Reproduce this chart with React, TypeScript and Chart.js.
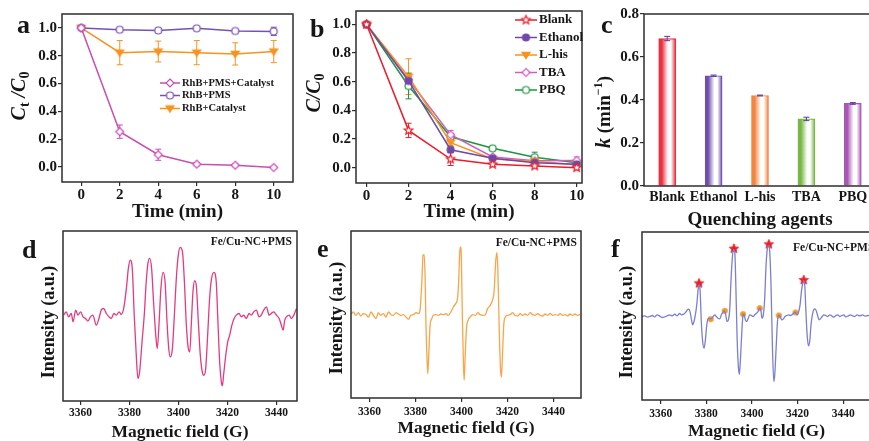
import React, { useEffect, useRef } from 'react';
import { Chart, registerables } from 'chart.js';

Chart.register(...registerables);

const FONT = '"Liberation Serif", "Times New Roman", Times, serif';
const INK = '#161616';
const AXIS = '#2e2e2e';

/* ---------------- panel a ---------------- */
const timeA = [0, 2, 4, 6, 8, 10];
const seriesA = ['RhB+PMS+Catalyst', 'RhB+PMS', 'RhB+Catalyst'];
const rhbPmsCatalyst = [1.0, 0.254, 0.088, 0.02, 0.012, -0.004];
const rhbPmsCatalystErr = [0.006, 0.048, 0.04, 0.012, 0.01, 0.008];
const rhbPms = [1.0, 0.987, 0.982, 0.997, 0.978, 0.975];
const rhbPmsErr = [0.006, 0.008, 0.008, 0.008, 0.01, 0.03];
const rhbCatalyst = [1.0, 0.822, 0.83, 0.822, 0.813, 0.83];
const rhbCatalystErr = [0.006, 0.087, 0.075, 0.087, 0.08, 0.08];
const ratioTicks = [0, 0.2, 0.4, 0.6, 0.8, 1.0];
const timeTicks = [0, 2, 4, 6, 8, 10];

/* ---------------- panel b ---------------- */
const timeB = [0, 2, 4, 6, 8, 10];
const scavengers = ['Blank', 'Ethanol', 'L-his', 'TBA', 'PBQ'];
const blankB = [1.0, 0.26, 0.06, 0.023, 0.012, 0.0];
const blankBErr = [0.01, 0.05, 0.045, 0.015, 0.015, 0.015];
const ethanolB = [1.0, 0.605, 0.125, 0.065, 0.035, 0.023];
const ethanolBErr = [0.01, 0.03, 0.02, 0.01, 0.01, 0.01];
const lhisB = [1.0, 0.635, 0.175, 0.06, 0.045, 0.02];
const lhisBErr = [0.01, 0.125, 0.02, 0.01, 0.01, 0.01];
const tbaB = [1.0, 0.615, 0.23, 0.075, 0.048, 0.05];
const tbaBErr = [0.01, 0.04, 0.03, 0.01, 0.01, 0.025];
const pbqB = [1.0, 0.57, 0.215, 0.135, 0.073, 0.035];
const pbqBErr = [0.01, 0.09, 0.02, 0.01, 0.035, 0.01];

/* ---------------- panel c ---------------- */
const agents = ['Blank', 'Ethanol', 'L-his', 'TBA', 'PBQ'];
const rateK = [0.686, 0.513, 0.421, 0.312, 0.384];
const rateKErr = [0.01, 0.003, 0.002, 0.008, 0.004];
const kTicks = [0, 0.2, 0.4, 0.6, 0.8];

/* ---------------- EPR spectra (d, e, f) ---------------- */
const fieldTicks = [3360, 3380, 3400, 3420, 3440];
const eprLabel = 'Fe/Cu-NC+PMS';

const fieldD = [
  3353.1, 3354.1, 3355.1, 3356.2, 3356.9, 3358.0, 3358.9, 3360.0, 3361.0, 3362.0,
  3363.0, 3364.0, 3365.0, 3366.4, 3367.5, 3368.4, 3369.4, 3370.5, 3371.6, 3372.5,
  3373.6, 3374.6, 3375.7, 3376.6, 3377.6, 3378.7, 3379.5, 3380.3, 3381.1, 3381.9,
  3382.8, 3383.4, 3384.1, 3385.2, 3386.0, 3386.8, 3387.5, 3388.2, 3389.0, 3389.8,
  3390.7, 3391.3, 3392.0, 3392.8, 3393.7, 3394.5, 3395.3, 3396.0, 3396.6, 3397.5,
  3398.3, 3399.1, 3399.9, 3400.7, 3401.6, 3402.4, 3403.2, 3403.9, 3404.6, 3405.2,
  3405.9, 3406.6, 3407.3, 3408.1, 3408.9, 3409.7, 3410.3, 3411.1, 3411.9, 3412.7,
  3413.5, 3414.5, 3415.4, 3416.1, 3416.8, 3417.5, 3417.9, 3418.4, 3419.3, 3420.1,
  3420.9, 3421.8, 3422.7, 3423.6, 3424.7, 3425.7, 3426.6, 3427.7, 3428.8, 3429.8,
  3430.7, 3431.8, 3432.9, 3433.8, 3434.8, 3435.9, 3437.0, 3437.9, 3438.9, 3440.0,
  3441.1, 3442.0, 3442.7, 3443.4, 3444.1, 3445.2, 3446.1, 3447.1, 3448.2,
];
const intensityD = [
  0, 10, -5, 5, -20, 15, 0, 10, -5, -10,
  -18, -5, 0, -30, -10, 15, 20, 5, -5, -10,
  5, 0, 10, 2, 20, 80, 140, 165, 140, 0,
  -130, -190, -170, -70, 0, 100, 155, 170, 140, 40,
  -60, -100, -30, 80, 128, 100, -20, -100, -125, -100,
  0, 110, 180, 203, 190, 100, -30, -95, -110, -30,
  70, 103, 85, -20, -120, -170, -180, -160, -60, 50,
  110, 128, 100, -20, -140, -200, -212, -180, -120, -80,
  -60, -30, -10, 0, 5, -5, 0, -10, 5, 0,
  10, 15, -5, 0, 15, 25, 0, 5, 10, 0,
  -10, -30, -45, -15, -5, 0, -10, 0, 20,
];

const fieldE = [
  3352.0, 3353.0, 3354.1, 3355.2, 3356.2, 3357.4, 3358.6, 3359.6, 3360.7, 3361.7,
  3362.9, 3363.9, 3364.9, 3366.1, 3367.2, 3368.3, 3369.4, 3370.4, 3371.6, 3372.6,
  3373.8, 3374.8, 3375.9, 3377.0, 3378.0, 3379.1, 3380.3, 3381.3, 3382.0, 3382.8,
  3383.3, 3383.8, 3384.2, 3384.6, 3385.1, 3385.4, 3385.8, 3386.4, 3387.1, 3387.8,
  3389.0, 3390.0, 3391.0, 3392.2, 3393.3, 3394.3, 3395.4, 3396.5, 3397.5, 3398.3,
  3398.8, 3399.3, 3399.6, 3400.0, 3400.4, 3400.9, 3401.2, 3401.6, 3402.2, 3402.9,
  3403.8, 3404.9, 3406.1, 3407.1, 3408.1, 3409.3, 3410.4, 3411.4, 3412.5, 3413.5,
  3414.2, 3414.9, 3415.4, 3415.8, 3416.4, 3417.0, 3417.4, 3417.8, 3418.4, 3419.1,
  3420.0, 3421.2, 3422.3, 3423.3, 3424.5, 3425.5, 3426.7, 3427.7, 3428.8, 3429.9,
  3431.0, 3432.0, 3433.2, 3434.2, 3435.4, 3436.4, 3437.5, 3438.6, 3439.7, 3440.7,
  3441.9, 3442.9, 3444.1, 3445.1, 3446.2, 3447.2, 3448.4, 3449.4, 3450.4, 3451.6,
];
const intensityE = [
  0, 7, -3, 5, -5, 2, -1, -8, 7, -3,
  -13, 5, -3, 2, -8, 7, -1, -3, 5, 1,
  -3, -1, -8, -15, -3, -1, 5, 2, 12, 97,
  177, 179, 117, -33, -143, -178, -123, -33, -13, -3,
  -1, -3, 1, -1, 2, -3, 7, 22, 32, 47,
  97, 187, 202, 167, -3, -153, -198, -133, -43, -18,
  -8, -1, -3, 5, -1, -3, -1, 17, 27, 42,
  67, 157, 185, 147, -33, -163, -188, -133, -33, -8,
  -3, -1, 5, -3, -5, 2, -3, 1, -3, 5,
  -1, -3, 2, -3, -5, 1, -3, 3, -3, -1,
  -3, 2, -3, -1, -5, 1, -3, 1, -3, -1,
];

const fieldF = [
  3351.8, 3353.0, 3354.2, 3355.2, 3356.3, 3357.4, 3358.4, 3359.6, 3360.7, 3361.8,
  3362.8, 3363.9, 3365.1, 3366.1, 3367.2, 3368.3, 3369.1, 3370.1, 3371.0, 3371.7,
  3372.3, 3372.9, 3373.5, 3374.0, 3374.6, 3375.2, 3375.8, 3376.4, 3376.8, 3377.3,
  3377.8, 3378.4, 3379.0, 3379.6, 3380.2, 3380.8, 3381.5, 3382.2, 3383.0, 3383.7,
  3384.4, 3385.1, 3385.9, 3386.6, 3387.3, 3387.9, 3388.5, 3389.1, 3389.7, 3390.3,
  3390.8, 3391.4, 3392.0, 3392.5, 3392.9, 3393.5, 3394.1, 3394.5, 3394.9, 3395.5,
  3396.1, 3396.5, 3397.1, 3397.7, 3398.3, 3399.0, 3399.8, 3400.5, 3401.2, 3402.0,
  3402.7, 3403.3, 3403.9, 3404.4, 3405.0, 3405.6, 3406.2, 3406.8, 3407.4, 3407.8,
  3408.4, 3409.0, 3409.6, 3410.0, 3410.6, 3411.2, 3411.8, 3412.3, 3413.1, 3413.8,
  3414.5, 3415.3, 3416.0, 3416.7, 3417.5, 3418.2, 3418.8, 3419.4, 3419.9, 3420.5,
  3421.1, 3421.7, 3422.3, 3422.7, 3423.2, 3423.6, 3424.2, 3424.8, 3425.4, 3425.9,
  3426.5, 3427.1, 3427.7, 3428.3, 3428.9, 3429.4, 3430.0, 3430.8, 3431.5, 3432.4,
  3433.2, 3434.1, 3435.0, 3435.9, 3436.8, 3437.6, 3438.5, 3439.4, 3440.3, 3441.1,
  3442.2, 3443.2, 3444.1, 3445.1, 3446.1, 3447.3, 3448.5, 3449.6, 3450.8, 3451.5,
];
const intensityF = [
  0, 2, -2, 0, 3, -1, 5, 1, -3, -1,
  2, 5, 2, 7, 2, 9, 5, 7, 13, 20,
  22, 13, -10, -25, -15, 5, 35, 80, 95, 75,
  -15, -75, -95, -70, -25, -7, -5, -7, 0, 5,
  0, -5, -7, 5, 13, 17, 5, -15, -10, 25,
  105, 175, 200, 190, 105, -65, -155, -173, -135, -55,
  5, 7, -10, -15, -7, 5, 3, 0, 5, 10,
  15, 25, 20, -5, 5, 55, 155, 205, 213, 195,
  85, -95, -195, -175, -95, -15, 3, 0, -10, -7,
  0, 3, 5, 3, 5, 9, 13, 9, 5, 15,
  35, 75, 100, 107, 90, 25, -55, -88, -70, -25,
  5, 20, 23, 15, 0, -10, -7, 0, 5, 3,
  0, 5, 2, -2, 3, 5, 0, 3, 5, -1,
  2, 5, 2, 0, 5, 2, 5, 1, 3, 2,
];
// DMPO-OH quartet (stars) and DMPO-SO4 lines (dots)
const starFieldF = [3376.8, 3392.1, 3407.4, 3422.7];
const starIntensityF = [99, 203, 216, 109];
const dotFieldF = [3381.9, 3388.1, 3396.1, 3403.4, 3411.8, 3419.1];
const dotIntensityF = [-8, 17, 7, 25, 3, 12];

/* ---------------- styles ---------------- */
const colorsA = ['#c94db3', '#7552b2', '#f7931e'];
const colorsB = ['#ec1c2a', '#7048a8', '#f7931e', '#d65bbf', '#1c9440'];
const barColors = ['#e8303f', '#6d50ad', '#f4843f', '#76b843', '#a955b3'];
const colorD = '#e6397e';
const colorE = '#f9a54a';
const colorF = '#7b7fd2';

/* ---------------- helpers ---------------- */
function makeMarker(kind: string, color: string, size: number, filled: boolean, lw = 1.2): HTMLCanvasElement {
  const c = document.createElement('canvas');
  const s = Math.ceil(size + 4);
  c.width = s;
  c.height = s;
  const g = c.getContext('2d') as CanvasRenderingContext2D;
  const m = s / 2;
  const r = size / 2;
  g.beginPath();
  if (kind === 'circle') {
    g.arc(m, m, r, 0, Math.PI * 2);
  } else if (kind === 'diamond') {
    g.moveTo(m, m - r); g.lineTo(m + r, m); g.lineTo(m, m + r); g.lineTo(m - r, m); g.closePath();
  } else if (kind === 'tridown') {
    g.moveTo(m - r, m - r * 0.65); g.lineTo(m + r, m - r * 0.65); g.lineTo(m, m + r * 0.9); g.closePath();
  } else if (kind === 'star') {
    for (let k = 0; k < 10; k++) {
      const ang = -Math.PI / 2 + (k * Math.PI) / 5;
      const rr = k % 2 === 0 ? r : r * 0.45;
      const px = m + rr * Math.cos(ang);
      const py = m + rr * Math.sin(ang);
      if (k === 0) g.moveTo(px, py); else g.lineTo(px, py);
    }
    g.closePath();
  }
  g.fillStyle = filled ? color : '#ffffff';
  g.fill();
  g.strokeStyle = color;
  g.lineWidth = lw;
  g.stroke();
  return c;
}

const errorBarPlugin = {
  id: 'errorBars',
  beforeDatasetsDraw(chart: any) { drawErrors(chart, false); },
  afterDatasetsDraw(chart: any) { drawErrors(chart, true); },
};

function drawErrors(chart: any, onTop: boolean) {
  const ctx = chart.ctx;
  chart.data.datasets.forEach((ds: any, i: number) => {
    if (!ds.errors || !!ds.errorOnTop !== onTop) return;
    const meta = chart.getDatasetMeta(i);
    const ys = chart.scales[meta.yAxisID];
    ctx.save();
    ctx.strokeStyle = ds.errorColor || ds.borderColor;
    ctx.lineWidth = 1;
    meta.data.forEach((el: any, j: number) => {
      const raw = ds.data[j];
      const val = typeof raw === 'object' ? raw.y : raw;
      const e = ds.errors[j];
      if (!e) return;
      const x = el.x;
      const y1 = ys.getPixelForValue(val + e);
      const y2 = ys.getPixelForValue(val - e);
      const cap = ds.errorCap ?? 3;
      ctx.beginPath();
      ctx.moveTo(x, y1); ctx.lineTo(x, y2);
      ctx.moveTo(x - cap, y1); ctx.lineTo(x + cap, y1);
      ctx.moveTo(x - cap, y2); ctx.lineTo(x + cap, y2);
      ctx.stroke();
    });
    ctx.restore();
  });
}

function decor(id: string, draw: (ctx: CanvasRenderingContext2D, chart: any) => void) {
  return {
    id,
    afterDraw(chart: any) {
      const ctx = chart.ctx as CanvasRenderingContext2D;
      ctx.save();
      draw(ctx, chart);
      ctx.restore();
    },
  };
}

function frame(ctx: CanvasRenderingContext2D, chart: any) {
  const a = chart.chartArea;
  ctx.save();
  ctx.strokeStyle = AXIS;
  ctx.lineWidth = 1.5;
  ctx.strokeRect(a.left, a.top, a.right - a.left, a.bottom - a.top);
  ctx.restore();
}

function letter(ctx: CanvasRenderingContext2D, t: string, x: number, y: number, size = 26) {
  ctx.save();
  ctx.font = `bold ${size}px ${FONT}`;
  ctx.fillStyle = INK;
  ctx.textAlign = 'left';
  ctx.textBaseline = 'alphabetic';
  ctx.fillText(t, x, y);
  ctx.restore();
}

function plainText(ctx: CanvasRenderingContext2D, t: string, x: number, y: number, size: number, align: CanvasTextAlign) {
  ctx.save();
  ctx.font = `bold ${size}px ${FONT}`;
  ctx.fillStyle = INK;
  ctx.textAlign = align;
  ctx.textBaseline = 'middle';
  ctx.fillText(t, x, y);
  ctx.restore();
}

type Seg = { t: string; size: number; italic?: boolean; dy?: number };
function richText(ctx: CanvasRenderingContext2D, cx: number, cy: number, segs: Seg[], rotate: boolean) {
  ctx.save();
  ctx.translate(cx, cy);
  if (rotate) ctx.rotate(-Math.PI / 2);
  ctx.fillStyle = INK;
  ctx.textBaseline = 'middle';
  ctx.textAlign = 'left';
  const fontOf = (s: Seg) => `${s.italic ? 'italic ' : ''}bold ${s.size}px ${FONT}`;
  let total = 0;
  segs.forEach((s) => { ctx.font = fontOf(s); total += ctx.measureText(s.t).width; });
  let x = -total / 2;
  segs.forEach((s) => {
    ctx.font = fontOf(s);
    ctx.fillText(s.t, x, s.dy || 0);
    x += ctx.measureText(s.t).width;
  });
  ctx.restore();
}

type LegendItem = { label: string; color: string; marker: HTMLCanvasElement };
function lineLegend(ctx: CanvasRenderingContext2D, items: LegendItem[], x1: number, x2: number, tx: number, ys: number[], size: number) {
  items.forEach((it, i) => {
    const y = ys[i];
    ctx.save();
    ctx.strokeStyle = it.color;
    ctx.lineWidth = 1.5;
    ctx.beginPath();
    ctx.moveTo(x1, y);
    ctx.lineTo(x2, y);
    ctx.stroke();
    const mk = it.marker;
    ctx.drawImage(mk, (x1 + x2) / 2 - mk.width / 2, y - mk.height / 2);
    ctx.restore();
    plainText(ctx, it.label, tx, y, size, 'left');
  });
}

function tickFont(size: number) {
  return { family: FONT, size, weight: 'bold' as const };
}

function linX(min: number, max: number, ticksArr: number[], fmt: (v: number) => string, height: number,
  tickPad: number, fontSize: number, title: string, titleSize: number, titlePadBottom: number) {
  return {
    type: 'linear',
    min,
    max,
    afterBuildTicks: (s: any) => { s.ticks = ticksArr.map((v) => ({ value: v })); },
    afterFit: (s: any) => { s.height = height; },
    ticks: { font: tickFont(fontSize), color: INK, padding: tickPad, maxRotation: 0, autoSkip: false, callback: (v: any) => fmt(Number(v)) },
    grid: { display: true, drawOnChartArea: false, drawTicks: true, tickLength: 4, color: AXIS, lineWidth: 1.2 },
    border: { display: false },
    title: { display: true, text: title, color: INK, font: { family: FONT, size: titleSize, weight: 'bold' }, padding: { top: 0, bottom: titlePadBottom } },
  };
}

function linY(min: number, max: number, ticksArr: number[] | null, width: number, tickPad: number, fontSize: number) {
  const show = !!ticksArr;
  return {
    type: 'linear',
    min,
    max,
    afterBuildTicks: (s: any) => { if (ticksArr) s.ticks = ticksArr.map((v) => ({ value: v })); },
    afterFit: (s: any) => { s.width = width; },
    ticks: { display: show, font: tickFont(fontSize), color: INK, padding: tickPad, autoSkip: false, callback: (v: any) => Number(v).toFixed(1) },
    grid: { display: show, drawOnChartArea: false, drawTicks: show, tickLength: show ? 4 : 0, color: AXIS, lineWidth: 1.2 },
    border: { display: false },
    title: { display: false },
  };
}

function common(padding: any) {
  return {
    responsive: false,
    animation: false,
    devicePixelRatio: 1,
    events: [],
    layout: { padding },
    plugins: { legend: { display: false }, tooltip: { enabled: false } },
  };
}

function lineDs(label: string, xs: number[], ys: number[], errs: number[], color: string, marker: HTMLCanvasElement) {
  return {
    label,
    data: xs.map((x, i) => ({ x, y: ys[i] })),
    errors: errs,
    borderColor: color,
    backgroundColor: color,
    borderWidth: 1.5,
    pointStyle: marker,
    pointRadius: 4,
    tension: 0,
  };
}

function spectrumDs(label: string, xs: number[], ys: number[], color: string) {
  return {
    label,
    data: xs.map((x, i) => ({ x, y: ys[i] })),
    borderColor: color,
    backgroundColor: color,
    borderWidth: 1.3,
    pointRadius: 0,
    cubicInterpolationMode: 'monotone',
  };
}

const fmtInt = (v: number) => String(Math.round(v));

/* ---------------- chart builders ---------------- */
function buildA(): any {
  const markers = [
    makeMarker('diamond', colorsA[0], 8, false),
    makeMarker('circle', colorsA[1], 7, false),
    makeMarker('tridown', colorsA[2], 8, true),
  ];
  const items = seriesA.map((label, i) => ({ label, color: colorsA[i], marker: markers[i] }));
  return {
    type: 'line',
    data: {
      datasets: [
        lineDs(seriesA[0], timeA, rhbPmsCatalyst, rhbPmsCatalystErr, colorsA[0], markers[0]),
        lineDs(seriesA[1], timeA, rhbPms, rhbPmsErr, colorsA[1], markers[1]),
        lineDs(seriesA[2], timeA, rhbCatalyst, rhbCatalystErr, colorsA[2], markers[2]),
      ],
    },
    options: {
      ...common({ left: 0, top: 14, right: 7, bottom: 0 }),
      scales: {
        x: linX(-1, 11, timeTicks, fmtInt, 44, 0, 15, 'Time (min)', 19, 3),
        y: linY(-0.108, 1.1, ratioTicks, 62, 1, 15),
      },
    },
    plugins: [
      errorBarPlugin,
      decor('decorA', (ctx, chart) => {
        frame(ctx, chart);
        letter(ctx, 'a', 17, 33);
        richText(ctx, 20, 96, [
          { t: 'C', size: 20, italic: true },
          { t: 't', size: 14, dy: 5 },
          { t: ' /', size: 20, italic: true },
          { t: 'C', size: 20, italic: true },
          { t: '0', size: 14, dy: 5 },
        ], true);
        lineLegend(ctx, items, 160, 180, 182, [83, 95.5, 108.5], 10.5);
      }),
    ],
  };
}

function buildB(): any {
  const markers = [
    makeMarker('star', colorsB[0], 9, false),
    makeMarker('circle', colorsB[1], 7, true),
    makeMarker('tridown', colorsB[2], 8, true),
    makeMarker('diamond', colorsB[3], 8, false),
    makeMarker('circle', colorsB[4], 7, false),
  ];
  const vals = [blankB, ethanolB, lhisB, tbaB, pbqB];
  const errs = [blankBErr, ethanolBErr, lhisBErr, tbaBErr, pbqBErr];
  const items = scavengers.map((label, i) => ({ label, color: colorsB[i], marker: markers[i] }));
  return {
    type: 'line',
    data: {
      datasets: scavengers.map((label, i) => lineDs(label, timeB, vals[i], errs[i], colorsB[i], markers[i])),
    },
    options: {
      ...common({ left: 0, top: 11, right: 10, bottom: 0 }),
      scales: {
        x: linX(-0.5, 10.25, timeTicks, fmtInt, 43, 0, 15, 'Time (min)', 19, 3),
        y: linY(-0.107, 1.093, ratioTicks, 60, 1, 15),
      },
    },
    plugins: [
      errorBarPlugin,
      decor('decorB', (ctx, chart) => {
        frame(ctx, chart);
        letter(ctx, 'b', 14, 37);
        richText(ctx, 19, 93, [
          { t: 'C/C', size: 20, italic: true },
          { t: '0', size: 14, dy: 5 },
        ], true);
        lineLegend(ctx, items, 219, 241, 243, [20, 37.5, 55, 72.5, 90], 13);
      }),
    ],
  };
}

function buildC(): any {
  const half = 8.5;
  return {
    type: 'bar',
    data: {
      labels: agents,
      datasets: [
        {
          label: 'k',
          data: rateK,
          errors: rateKErr,
          errorOnTop: true,
          errorColor: '#5a3c9c',
          errorCap: 3,
          borderColor: barColors,
          borderWidth: 1.2,
          barThickness: 17,
          backgroundColor: (c: any) => {
            const i = c.dataIndex;
            const chart = c.chart;
            if (i === undefined || !chart.chartArea || !chart.scales.x) return barColors[0];
            const col = barColors[i];
            const cx = chart.scales.x.getPixelForValue(i);
            const g = chart.ctx.createLinearGradient(cx - half, 0, cx + half, 0);
            g.addColorStop(0, col);
            g.addColorStop(0.18, col);
            g.addColorStop(0.55, '#ffffff');
            g.addColorStop(0.72, '#ffffff');
            g.addColorStop(1, col);
            return g;
          },
        },
      ],
    },
    options: {
      ...common({ left: 0, top: 14, right: 4, bottom: 0 }),
      scales: {
        x: {
          type: 'category',
          offset: true,
          afterFit: (s: any) => { s.height = 48; },
          ticks: { font: tickFont(14), color: INK, padding: 3, maxRotation: 0, autoSkip: false },
          grid: { display: false, drawTicks: false, tickLength: 0 },
          border: { display: false },
          title: { display: true, text: 'Quenching agents', color: INK, font: { family: FONT, size: 19, weight: 'bold' }, padding: { top: 0, bottom: 3 } },
        },
        y: linY(0, 0.8, kTicks, 54, 1, 15),
      },
    },
    plugins: [
      errorBarPlugin,
      decor('decorC', (ctx, chart) => {
        frame(ctx, chart);
        letter(ctx, 'c', 11, 33);
        richText(ctx, 15, 112, [
          { t: 'k', size: 20, italic: true },
          { t: ' (min', size: 19 },
          { t: '\u22121', size: 12, dy: -6 },
          { t: ')', size: 19 },
        ], true);
      }),
    ],
  };
}

function buildSpectrum(opts: {
  id: string; letterText: string; letterX: number; letterY: number;
  xs: number[]; ys: number[]; color: string; xmin: number; xmax: number; ymin: number; ymax: number;
  padding: any; yWidth: number; xHeight: number; tickPad: number; titlePad: number;
  intX: number; intY: number; noteX: number; noteY: number; noteAlign: CanvasTextAlign; extra?: any[];
}): any {
  return {
    type: 'line',
    data: { datasets: [spectrumDs('EPR', opts.xs, opts.ys, opts.color), ...(opts.extra || [])] },
    options: {
      ...common(opts.padding),
      scales: {
        x: linX(opts.xmin, opts.xmax, fieldTicks, fmtInt, opts.xHeight, opts.tickPad, 11.5, 'Magnetic field (G)', 17.5, opts.titlePad),
        y: linY(opts.ymin, opts.ymax, null, opts.yWidth, 0, 12),
      },
    },
    plugins: [
      decor(opts.id, (ctx, chart) => {
        frame(ctx, chart);
        letter(ctx, opts.letterText, opts.letterX, opts.letterY);
        richText(ctx, opts.intX, opts.intY, [{ t: 'Intensity (a.u.)', size: 18 }], true);
        plainText(ctx, eprLabel, opts.noteX, opts.noteY, 11.5, opts.noteAlign);
      }),
    ],
  };
}

function buildD(): any {
  return buildSpectrum({
    id: 'decorD', letterText: 'd', letterX: 22, letterY: 31.7,
    xs: fieldD, ys: intensityD, color: colorD, xmin: 3352.8, xmax: 3448.4, ymin: -257, ymax: 252,
    padding: { left: 0, top: 5, right: 3, bottom: 0 }, yWidth: 63, xHeight: 43, tickPad: 1, titlePad: 1.5,
    intX: 49, intY: 96, noteX: 292, noteY: 15.7, noteAlign: 'right',
  });
}

function buildE(): any {
  return buildSpectrum({
    id: 'decorE', letterText: 'e', letterX: 17, letterY: 30.7,
    xs: fieldE, ys: intensityE, color: colorE, xmin: 3352.0, xmax: 3452.0, ymin: -251, ymax: 250,
    padding: { left: 0, top: 5, right: 9, bottom: 0 }, yWidth: 51, xHeight: 46, tickPad: 3, titlePad: 5.5,
    intX: 37, intY: 92, noteX: 277, noteY: 17.3, noteAlign: 'right',
  });
}

function buildF(): any {
  const star = makeMarker('star', '#ee1c25', 10, true, 0.8);
  const dot = makeMarker('circle', '#f7961f', 5.5, true, 0.6);
  return buildSpectrum({
    id: 'decorF', letterText: 'f', letterX: 21, letterY: 30.7,
    xs: fieldF, ys: intensityF, color: colorF, xmin: 3351.8, xmax: 3452.2, ymin: -250, ymax: 253,
    padding: { left: 0, top: 6, right: 9, bottom: 0 }, yWidth: 52, xHeight: 44, tickPad: 3, titlePad: 1.8,
    intX: 37, intY: 96, noteX: 203, noteY: 22.3, noteAlign: 'left',
    extra: [
      {
        label: 'DMPO-OH', data: starFieldF.map((x, i) => ({ x, y: starIntensityF[i] })),
        showLine: false, pointStyle: star, pointRadius: 5, borderColor: '#ee1c25', backgroundColor: '#ee1c25',
      },
      {
        label: 'DMPO-SO4', data: dotFieldF.map((x, i) => ({ x, y: dotIntensityF[i] })),
        showLine: false, pointStyle: dot, pointRadius: 3, borderColor: '#f7961f', backgroundColor: '#f7961f',
      },
    ],
  });
}

/* ---------------- components ---------------- */
function ChartPanel(props: { left: number; top: number; width: number; height: number; build: () => any }) {
  const ref = useRef<HTMLCanvasElement>(null);
  useEffect(() => {
    if (!ref.current) return;
    const chart = new Chart(ref.current, props.build());
    return () => chart.destroy();
  }, []);
  return (
    <canvas
      ref={ref}
      width={props.width}
      height={props.height}
      style={{ position: 'absolute', left: props.left, top: props.top, width: props.width, height: props.height }}
    />
  );
}

export default function App() {
  return (
    <div
      style={{
        position: 'fixed', left: 0, top: 0, width: 869, height: 441,
        overflow: 'hidden', background: '#ffffff',
      }}
    >
      <ChartPanel left={0} top={0} width={300} height={226} build={buildA} />
      <ChartPanel left={296} top={0} width={296} height={226} build={buildB} />
      <ChartPanel left={590} top={0} width={290} height={234} build={buildC} />
      <ChartPanel left={0} top={226} width={300} height={218} build={buildD} />
      <ChartPanel left={300} top={226} width={290} height={218} build={buildE} />
      <ChartPanel left={590} top={226} width={290} height={218} build={buildF} />
    </div>
  );
}
